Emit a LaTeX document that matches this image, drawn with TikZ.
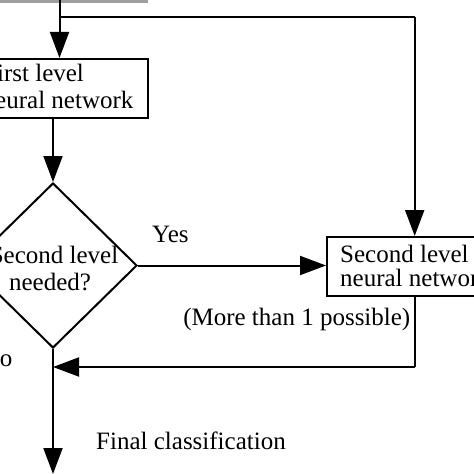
\documentclass[tikz,border=0pt]{standalone}
\usepackage{fontspec}
\setmainfont{Liberation Serif}
\usetikzlibrary{arrows.meta,shapes.geometric}
\begin{document}
\begin{tikzpicture}[x=1pt,y=-1pt,
  line/.style={line width=2pt,line join=miter},
  arr/.style={line,-{Triangle[length=26pt,width=19pt]}},
  box/.style={draw,line width=2pt,inner sep=0pt},
  txt/.style={font=\fontsize{25}{26}\selectfont,inner sep=0pt,text=black},
  dec/.style={draw,diamond,line width=2pt,inner sep=0pt,minimum width=168pt,minimum height=165pt}]
\useasboundingbox (0,0) rectangle (474,474);
\clip (0,0) rectangle (474,474);
% gray bar at top (bottom of a previous box)
\fill[gray!75] (0,0) rectangle (148,2.5);
% nodes
\node[box,minimum width=190pt,minimum height=58.7pt] (fn) at (53,88.3) {};
\node[txt,anchor=base west] (fn1) at (-17,81.7) {First level};
\node[txt,anchor=base west] (fn2) at (-23,108.3) {Neural network};
\node[dec] (dm) at (53,265.5) {};
\node[txt,anchor=base] (dm1) at (54,263) {Second level};
\node[txt,anchor=base] (dm2) at (50,290) {needed?};
\node[box,minimum width=190pt,minimum height=59pt] (sn) at (422,266.5) {};
\node[txt,anchor=base west] (sn1) at (340,262) {Second level};
\node[txt,anchor=base west] (sn2) at (340,286) {neural network};
\node[txt,anchor=base west] (yes) at (152,242) {Yes};
\node[txt,anchor=base east] (more) at (410.5,325) {(More than 1 possible)};
\node[txt,anchor=base east] (no) at (12.5,366) {No};
\node[txt,anchor=base west] (fin) at (96,449) {Final classification};
% coordinates
\coordinate (in) at (59.5,0);
\coordinate (br) at (59.5,17.3);
\coordinate (cr) at (414.7,17.3);
\coordinate (fb) at (414.7,367);
\coordinate (mj) at (53,367);
\coordinate (out) at (53,474);
% connectors
\draw[arr] (in) -- (in |- fn.north);
\draw[line] (br) -- (cr);
\draw[arr] (cr) -- (cr |- sn.north);
\draw[arr] (fn.south -| dm.north) -- (dm.north);
\draw[arr] (dm.east) -- (sn.west |- dm.east);
\draw[line] (sn.south -| fb) -- (fb);
\draw[arr] (fb) -- (mj);
\draw[line] (dm.south) -- (mj);
\draw[arr] (mj) -- (out);
\end{tikzpicture}
\end{document}
